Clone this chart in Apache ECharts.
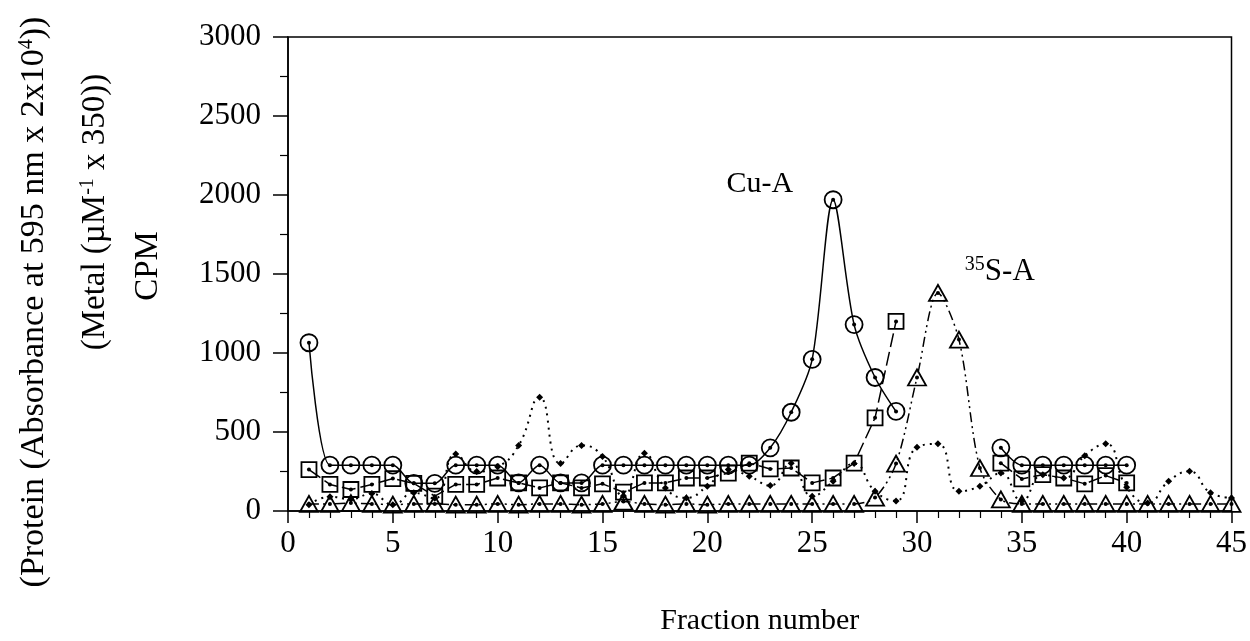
<!DOCTYPE html>
<html>
<head>
<meta charset="utf-8">
<script src="https://cdn.jsdelivr.net/npm/echarts@6/dist/echarts.min.js"></script>
<style>
html,body{margin:0;padding:0;background:#fff;}
#chart{width:1250px;height:641px;}
</style>
</head>
<body>
<div id="chart"></div>
<script>
// ---- data ----
var fractions = [1,2,3,4,5,6,7,8,9,10,11,12,13,14,15,16,17,18,19,20,21,22,23,24,25,26,27,28,29,30,31,32,33,34,35,36,37,38,39,40,41,42,43,44,45];
// Cu-A (circles)
var circleVals = [1065,290,290,290,290,175,175,290,290,290,178,290,178,178,290,290,290,290,290,290,290,290,400,625,960,1970,1180,845,630,null,null,null,null,400,290,290,290,290,290,290,null,null,null,null,null];
// squares
var squareVals = [262,168,136,168,205,175,94,168,168,209,178,146,178,146,172,119,178,178,209,209,240,303,266,272,178,209,303,590,1200,null,null,null,null,303,203,230,209,172,224,178,null,null,null,null,null];
// 35S-A (triangles)
var triangleVals = [45,45,50,45,40,45,45,40,40,45,40,45,45,40,45,60,45,40,45,40,45,45,45,45,45,45,45,85,300,845,1380,1085,272,73,45,45,45,45,45,45,45,45,45,45,45];
// protein (small diamonds, dotted)
var diamondVals = [40,90,75,110,40,115,80,360,250,280,415,720,300,415,345,95,366,146,83,157,262,220,161,303,94,188,300,125,63,404,425,125,157,240,63,230,209,350,425,150,50,188,251,115,83];
var xTicks = [0,5,10,15,20,25,30,35,40,45];
var yTicks = [0,500,1000,1500,2000,2500,3000];

function pairs(vals){ return fractions.map(function(f,i){ return [f, vals[i]]; }); }

var FONT = 'Liberation Serif';
var chart = echarts.init(document.getElementById('chart'));

function dotSeries(vals){
  return {type:'line', data:pairs(vals), symbol:'circle', symbolSize:4, showSymbol:true,
    lineStyle:{width:0, opacity:0}, itemStyle:{color:'#000'}, z:5, silent:true, connectNulls:false};
}

var option = {
  animation:false,
  backgroundColor:'#fff',
  grid:{left:288, right:17, top:37, bottom:125, show:true, borderColor:'#000', borderWidth:1.5, backgroundColor:'transparent'},
  xAxis:{type:'value', min:xTicks[0], max:xTicks[xTicks.length-1], interval:5,
    axisLine:{lineStyle:{color:'#000', width:1.5}},
    axisTick:{length:12, lineStyle:{color:'#000', width:1.5}},
    minorTick:{show:true, splitNumber:5, length:7, lineStyle:{color:'#000', width:1.2}},
    splitLine:{show:false},
    axisLabel:{color:'#000', fontFamily:FONT, fontSize:31, margin:17},
    name:'Fraction number', nameLocation:'middle', nameGap:95,
    nameTextStyle:{color:'#000', fontFamily:FONT, fontSize:30}
  },
  yAxis:{type:'value', min:yTicks[0], max:yTicks[yTicks.length-1], interval:500,
    axisLine:{show:true, lineStyle:{color:'#000', width:1.5}},
    axisTick:{length:15, lineStyle:{color:'#000', width:1.5}},
    minorTick:{show:true, splitNumber:2, length:8, lineStyle:{color:'#000', width:1.2}},
    splitLine:{show:false},
    axisLabel:{color:'#000', fontFamily:FONT, fontSize:31, margin:27, formatter:function(v){return String(v);}}
  },
  graphic:[
    {type:'text', x:34, y:302, rotation:Math.PI/2, style:{text:'{a|(Protein (Absorbance at 595 nm x 2x10}{s|4}{a|))}',
      rich:{a:{fontFamily:FONT, fontSize:34, fill:'#000'}, s:{fontFamily:FONT, fontSize:20, fill:'#000', padding:[0,0,15,0]}},
      align:'center', verticalAlign:'middle'}},
    {type:'text', x:95, y:212, rotation:Math.PI/2, style:{text:'{a|(Metal (µM}{s|-1}{a| x 350))}',
      rich:{a:{fontFamily:FONT, fontSize:33, fill:'#000'}, s:{fontFamily:FONT, fontSize:20, fill:'#000', padding:[0,0,15,0]}},
      align:'center', verticalAlign:'middle'}},
    {type:'text', x:148, y:266, rotation:Math.PI/2, style:{text:'CPM', fontFamily:FONT, fontSize:33, fill:'#000',
      align:'center', verticalAlign:'middle'}}
  ],
  series:[
    {type:'line', name:'Cu-A', data:pairs(circleVals), smooth:0.3, connectNulls:false,
      symbol:'circle', symbolSize:17, showSymbol:true,
      itemStyle:{color:'transparent', borderColor:'#000', borderWidth:1.8},
      lineStyle:{color:'#000', width:1.5}, z:3,
      markPoint:{symbol:'circle', symbolSize:1, itemStyle:{color:'transparent'},
        label:{show:true, position:'inside', color:'#000', fontFamily:FONT, fontSize:30, formatter:'Cu-A'},
        data:[{coord:[22.5, 2070]}]}
    },
    {type:'line', name:'Squares', data:pairs(squareVals), smooth:false, connectNulls:false,
      symbol:'rect', symbolSize:15, showSymbol:true,
      itemStyle:{color:'transparent', borderColor:'#000', borderWidth:1.8},
      lineStyle:{color:'#000', width:1.5, type:[14,5]}, z:3},
    {type:'line', name:'35S-A', data:pairs(triangleVals), smooth:0.3, connectNulls:false,
      symbol:'triangle', symbolSize:[18,16], showSymbol:true,
      itemStyle:{color:'transparent', borderColor:'#000', borderWidth:1.8},
      lineStyle:{color:'#000', width:1.5, type:[10,4,2,4,2,4]}, z:3,
      markPoint:{symbol:'circle', symbolSize:1, itemStyle:{color:'transparent'},
        label:{show:true, position:'inside', color:'#000', fontFamily:FONT,
          formatter:'{s|35}{a|S-A}',
          rich:{a:{fontFamily:FONT, fontSize:31, color:'#000'}, s:{fontFamily:FONT, fontSize:20, color:'#000', padding:[0,0,13,0]}}},
        data:[{coord:[33.95, 1515]}]}
    },
    {type:'line', name:'Protein', data:pairs(diamondVals), smooth:0.5, connectNulls:false,
      symbol:'diamond', symbolSize:7, showSymbol:true,
      itemStyle:{color:'#000'},
      lineStyle:{color:'#000', width:2, type:[2,5]}, z:2},
    dotSeries(circleVals), dotSeries(squareVals), dotSeries(triangleVals)
  ]
};
chart.setOption(option);
</script>
</body>
</html>
